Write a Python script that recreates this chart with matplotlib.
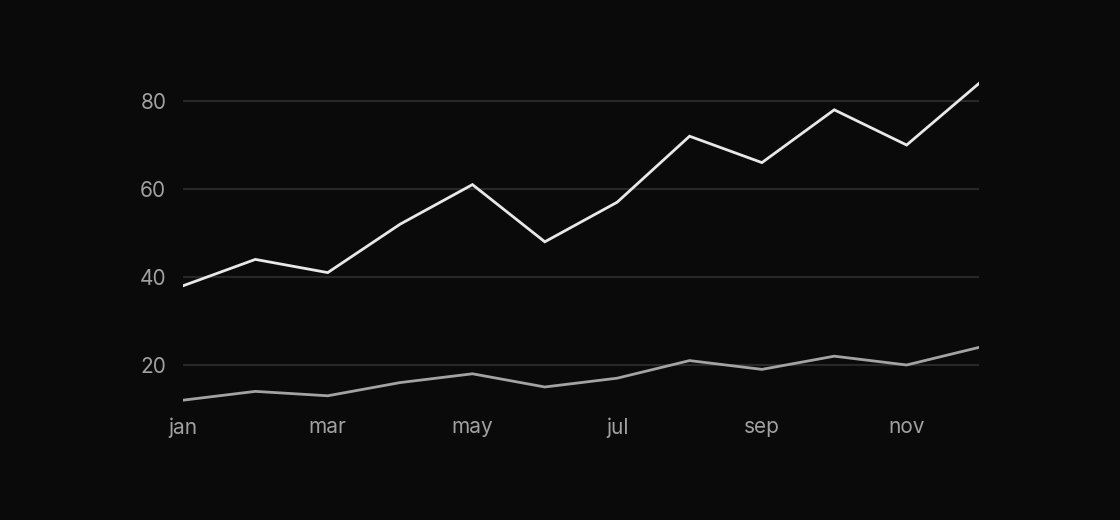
import numpy as np
import matplotlib.pyplot as plt

############# DATA

months = ['jan', 'feb', 'mar', 'apr', 'may', 'jun',
          'jul', 'aug', 'sep', 'oct', 'nov', 'dec']
series_a = [38, 44, 41, 52, 61, 48, 57, 72, 66, 78, 70, 84]   #upper white line
series_b = [12, 14, 13, 16, 18, 15, 17, 21, 19, 22, 20, 24]   #lower gray line
yticks = [20, 40, 60, 80]

############# STYLE

bg = '#0a0a0a'
grid_col = '#282828'
label_col = '#a0a0a0'
plt.rcParams['font.family'] = ['Inter', 'DejaVu Sans']

fig = plt.figure(figsize=(11.2, 5.2), dpi=100, facecolor=bg)
ax = fig.add_axes([183/1120, 0.2135, (979-183)/1120, 0.643])
ax.set_facecolor(bg)

x = np.arange(len(months))
ax.plot(x, series_a, color='#e8e8e8', lw=2.0, solid_joinstyle='miter', zorder=3)
ax.plot(x, series_b, color='#a3a3a3', lw=2.0, solid_joinstyle='miter', zorder=3)

for v in yticks:                                #horizontal guides only
    ax.axhline(v, color=grid_col, lw=1.5, zorder=1)

ax.set_xlim(0, 11)
ax.set_ylim(10, 86)
ax.set_yticks(yticks)
ax.set_xticks(x[::2])
ax.set_xticklabels(months[::2])

for s in ax.spines.values():
    s.set_visible(False)
ax.tick_params(axis='both', length=0, colors=label_col, labelsize=15)
ax.tick_params(axis='y', pad=12)
ax.tick_params(axis='x', pad=6)

fig.savefig('out.png', facecolor=bg)
